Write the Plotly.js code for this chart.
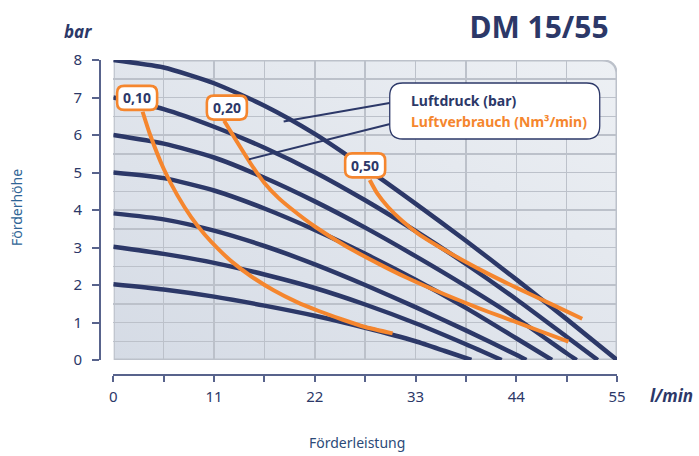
<!DOCTYPE html>
<html><head><meta charset="utf-8">
<script src="https://cdn.plot.ly/plotly-3.0.1.min.js"></script>
<style>html,body{margin:0;padding:0;background:#fff}</style>
</head><body>
<div id="chart" style="width:699px;height:456px"></div>
<script>
// ---- data ----
const flowTicks = [0,5.5,11,16.5,22,27.5,33,38.5,44,49.5,55];
const flowTickLabels = ['0','','11','','22','','33','','44','','55'];
const headTicks = [0,1,2,3,4,5,6,7,8];
const headTickLabels = ['0','1','2','3','4','5','6','7','8'];

// air pressure curves (bar): flow l/min -> head bar
const p8x = [0,5.5,11,16.5,22,27.5,33,38.5,44,49.5,55];
const p8y = [8,7.8,7.38,6.78,6.03,5.13,4.17,3.18,2.15,1.09,0];
const p7x = [0,5.5,11,16.5,22,27.5,33,38.5,44,49.5,52.9];
const p7y = [7,6.69,6.22,5.66,5.01,4.26,3.44,2.56,1.62,0.62,0];
const p6x = [0,5.5,11,16.5,22,27.5,33,38.5,44,49.5,50.6];
const p6y = [6,5.77,5.40,4.86,4.23,3.53,2.77,1.97,1.12,0.18,0];
const p5x = [0,5.5,11,16.5,22,27.5,33,38.5,44,47.9];
const p5y = [5,4.85,4.52,4.04,3.47,2.83,2.14,1.39,0.58,0];
const p4x = [0,5.5,11,16.5,22,27.5,33,38.5,44,45.1];
const p4y = [3.91,3.75,3.45,3.04,2.55,2.00,1.41,0.79,0.14,0];
const p3x = [0,5.5,11,16.5,22,27.5,33,38.5,42.4];
const p3y = [3.02,2.83,2.59,2.28,1.92,1.48,0.98,0.42,0];
const p2x = [0,5.5,11,16.5,22,27.5,33,36.2,39.1];
const p2y = [2.02,1.88,1.69,1.45,1.18,0.86,0.5,0.24,0];

// air consumption curves (Nm3/min)
const airLabels = ['0,10','0,20','0,50'];
const q10x = [3.2,4.0,5.5,7,8.5,10,11.5,13,15,17.5,20,22.5,25,27.5,30.5];
const q10y = [6.62,6.02,5.10,4.39,3.81,3.34,2.95,2.61,2.24,1.86,1.55,1.30,1.08,0.88,0.71];
const q20x = [12.1,13.5,15.1,16.5,18,19.5,22,25.5,29.1,32,35.7,38.5,41,43.8,46.5,49.7];
const q20y = [6.38,5.82,5.2,4.72,4.33,4.02,3.56,3.02,2.55,2.2,1.8,1.52,1.28,1.03,0.78,0.49];
const q50x = [28,28.8,30,31.5,33.5,35.7,38,41,44,48,51.2];
const q50y = [4.8,4.45,4.08,3.72,3.33,3.0,2.68,2.29,1.93,1.47,1.1];

const legendTexts = ['Luftdruck (bar)','Luftverbrauch (Nm³/min)'];

// ---- style ----
const NAVY = '#2c3868';
const ORANGE = '#f5862e';
const GRID = '#bcc1ca';
const AXIS = '#58638c';
const FONT = 'Noto Sans, Open Sans, sans-serif';

const pressureX = [p8x,p7x,p6x,p5x,p4x,p3x,p2x];
const pressureY = [p8y,p7y,p6y,p5y,p4y,p3y,p2y];
const airX = [q10x,q20x,q50x];
const airY = [q10y,q20y,q50y];

const traces = [];
pressureX.forEach((xs,i)=>traces.push({x:xs,y:pressureY[i],type:'scatter',mode:'lines',
  line:{color:NAVY,width:4.5,shape:'spline',smoothing:0.6},hoverinfo:'skip',showlegend:false}));
airX.forEach((xs,i)=>traces.push({x:xs,y:airY[i],type:'scatter',mode:'lines',
  line:{color:ORANGE,width:4,shape:'spline',smoothing:0.6},hoverinfo:'skip',showlegend:false}));

// background image (gradient with rounded top-right corner)
const svg = "<svg xmlns='http://www.w3.org/2000/svg' width='504' height='300' viewBox='0 0 504 300' preserveAspectRatio='none'>"+
 "<defs><linearGradient id='g' x1='0' y1='1' x2='1' y2='0'><stop offset='0' stop-color='#d5dbe5'/><stop offset='1' stop-color='#edf0f4'/></linearGradient></defs>"+
 "<path d='M0.75 0.75 H489 Q503.25 0.75 503.25 15 V299.25 H0.75 Z' fill='url(#g)' stroke='"+GRID+"' stroke-width='1.5'/></svg>";
const bgSrc = 'data:image/svg+xml;charset=utf-8,'+encodeURIComponent(svg);

// rounded box helper (pixel size, anchored at a data point)
function pixBox(cx,cy,hw,hh,r,color,lw){
  const p = `M ${-hw+r},${-hh} L ${hw-r},${-hh} Q ${hw},${-hh} ${hw},${-hh+r} L ${hw},${hh-r} Q ${hw},${hh} ${hw-r},${hh} L ${-hw+r},${hh} Q ${-hw},${hh} ${-hw},${hh-r} L ${-hw},${-hh+r} Q ${-hw},${-hh} ${-hw+r},${-hh} Z`;
  return {type:'path',xref:'x',yref:'y',xsizemode:'pixel',ysizemode:'pixel',xanchor:cx,yanchor:cy,
    path:p,fillcolor:'#ffffff',line:{color:color,width:lw},layer:'above'};
}

const labelPos = [[2.6,6.99],[12.4,6.73],[27.5,5.19]];
const shapes = [
  {type:'path',xref:'x',yref:'y',path:'M 55,7.6 Q 55,8 53.363,8 L 55.4,8.2 L 55.4,7.6 Z',fillcolor:'#ffffff',line:{width:0},layer:'above'},
  {type:'path',xref:'x',yref:'y',path:'M 55,7.6 Q 55,8 53.363,8',line:{color:GRID,width:1.5},layer:'above'},
  {type:'line',xref:'x',yref:'y',x0:31.1,y0:6.893,x1:18.6,y1:6.36,line:{color:NAVY,width:2},layer:'above'},
  {type:'line',xref:'x',yref:'y',x0:31.1,y0:6.347,x1:14.8,y1:5.35,line:{color:NAVY,width:2},layer:'above'},
  pixBox(41.65,6.64,105,28,13,NAVY,1.3)
];
labelPos.forEach(p=>shapes.push(pixBox(p[0],p[1],20,12,7,ORANGE,2.6)));

const annotations = [
  {text:'<b>'+legendTexts[0]+'</b>',x:32.3,y:6.907,xref:'x',yref:'y',xanchor:'left',yanchor:'middle',showarrow:false,font:{family:FONT,size:14,color:NAVY}},
  {text:'<b>'+legendTexts[1]+'</b>',x:32.3,y:6.347,xref:'x',yref:'y',xanchor:'left',yanchor:'middle',showarrow:false,font:{family:FONT,size:14,color:ORANGE}},
  {text:'<b><i>bar</i></b>',x:-0.0426,y:1.092,xref:'paper',yref:'paper',xanchor:'center',yanchor:'middle',showarrow:false,font:{family:FONT,size:17,color:NAVY}},
  {text:'<b><i>l/min</i></b>',x:1.106,y:-0.0635,xref:'paper',yref:'paper',xanchor:'center',yanchor:'middle',showarrow:false,font:{family:FONT,size:17,color:NAVY}},
  {text:'Förderhöhe',x:-0.1625,y:0.533,xref:'paper',yref:'paper',xanchor:'center',yanchor:'middle',textangle:-90,showarrow:false,font:{family:FONT,size:14,color:'#2f6596'}},
  {text:'Förderleistung',x:0.497,y:-0.2127,xref:'paper',yref:'paper',xanchor:'center',yanchor:'middle',showarrow:false,font:{family:FONT,size:14,color:'#2c4a78'}}
];
labelPos.forEach((p,i)=>annotations.push({text:'<b>'+airLabels[i]+'</b>',x:p[0],y:p[1],xref:'x',yref:'y',
  xanchor:'center',yanchor:'middle',showarrow:false,font:{family:FONT,size:14,color:NAVY}}));

const layout = {
  width:699,height:456,
  margin:{l:100,r:82,t:60,b:81},
  paper_bgcolor:'#ffffff',plot_bgcolor:'rgba(0,0,0,0)',
  font:{family:FONT,color:NAVY},
  title:{text:'<b>DM 15/55</b>',x:539/699,xref:'container',xanchor:'center',y:1-27/456,yref:'container',yanchor:'middle',
    font:{family:FONT,size:30,color:NAVY}},
  showlegend:false,
  xaxis:{domain:[13.3/517,1],range:[0,55],anchor:'free',position:0,
    tickmode:'array',tickvals:flowTicks,ticktext:flowTickLabels,
    showgrid:true,gridcolor:GRID,gridwidth:1.5,zeroline:false,
    showline:true,linecolor:AXIS,linewidth:2,ticks:'outside',ticklen:6,tickwidth:2,tickcolor:AXIS,
    ticklabelstandoff:2,tickfont:{family:FONT,size:15,color:NAVY},fixedrange:true},
  yaxis:{domain:[15/315,1],range:[0,8],anchor:'free',position:0,
    tickmode:'array',tickvals:headTicks,ticktext:headTickLabels,
    showgrid:true,gridcolor:GRID,gridwidth:1.5,zeroline:false,
    minor:{tickmode:'linear',tick0:0,dtick:0.5,showgrid:true,gridcolor:GRID,gridwidth:1.5,ticks:''},
    showline:true,linecolor:AXIS,linewidth:2,ticks:'outside',ticklen:7,tickwidth:2,tickcolor:AXIS,
    ticklabelstandoff:7,tickfont:{family:FONT,size:15,color:NAVY},fixedrange:true},
  images:[{source:bgSrc,xref:'x',yref:'y',x:0,y:8,sizex:55,sizey:8,xanchor:'left',yanchor:'top',sizing:'stretch',layer:'below'}],
  shapes:shapes,
  annotations:annotations
};

Plotly.newPlot('chart',traces,layout,{displayModeBar:false,staticPlot:true});
</script>
</body></html>
